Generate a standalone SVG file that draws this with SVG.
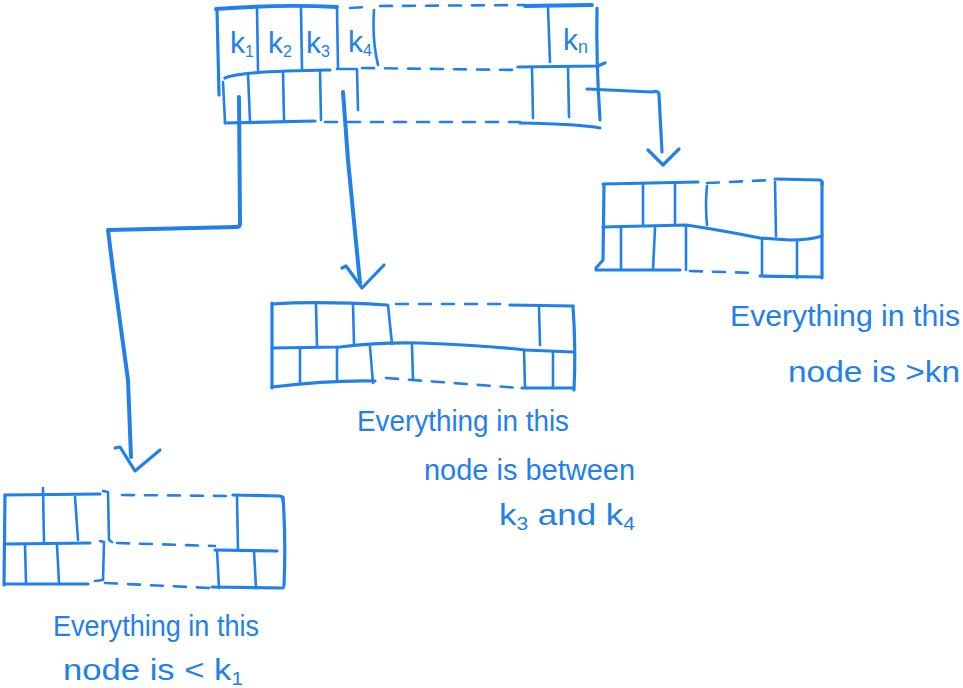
<svg xmlns="http://www.w3.org/2000/svg" width="963" height="688" viewBox="0 0 963 688">
<style>
  .s{fill:none;stroke:#2180ec;stroke-width:3.2;stroke-linecap:round;stroke-linejoin:round}
  .t{stroke-width:2.6}
  .d{stroke-dasharray:12 11;stroke-width:2.6}
  .w{stroke-width:4}
  .k{font-family:"Liberation Sans",Arial,sans-serif;font-size:30px;fill:#2180ec}
  .lbl{font-family:"Liberation Sans",Arial,sans-serif;font-size:30px;fill:#2180ec}
</style>
<rect width="963" height="688" fill="#ffffff"/>

<g id="node-root">
  <path class="s w" d="M216,9 Q280,4 337,7"/>
  <path class="s d" d="M350,8 L367,7"/>
  <path class="s d" d="M380,6 L525,5"/>
  <path class="s w" d="M525,6 L592,5"/>
  <path class="s" d="M217,9 L219,95"/>
  <path class="s t" d="M257,8 L258,70 M301,8 L302,70 M337,8 L338,68 M374,10 Q372,40 378,65 M548,8 L550,62"/>
  <path class="s" d="M597,8 Q596,60 600,120"/>
  <path class="s" d="M225,78 Q240,71 330,70"/>
  <path class="s t" d="M337,69 L355,69"/>
  <path class="s d" d="M362,68 L518,70"/>
  <path class="s" d="M518,67 L598,66 Q602,64 605,63"/>
  <path class="s t" d="M223,82 L225,122 M248,73 L250,122 M283,72 L284,120 M320,70 L321,120 M357,69 L358,110 M532,68 L533,118 M568,67 L569,117"/>
  <path class="s" d="M225,123 L315,121"/>
  <path class="s d" d="M325,122 L520,122"/>
  <path class="s" d="M520,123 Q580,124 600,128"/>
  <text class="k" x="230" y="53">k<tspan font-size="16" dy="4">1</tspan></text>
  <text class="k" x="268" y="53">k<tspan font-size="16" dy="4">2</tspan></text>
  <text class="k" x="306" y="53">k<tspan font-size="16" dy="4">3</tspan></text>
  <text class="k" x="348" y="52">k<tspan font-size="16" dy="4">4</tspan></text>
  <text class="k" x="563" y="50">k<tspan font-size="18" dy="3">n</tspan></text>
</g>

<g id="node-left">
  <path class="s" d="M5,495 L100,494"/>
  <path class="s t" d="M103,491 L108,492 L109,540 L112,542"/>
  <path class="s d" d="M122,495 L233,496"/>
  <path class="s" d="M233,495 L280,496 Q283,497 283,500"/>
  <path class="s" d="M5,495 L4,585"/>
  <path class="s t" d="M43,488 L44,542 M75,497 L78,540 M237,496 L238,550"/>
  <path class="s" d="M7,544 L90,543"/>
  <path class="s t" d="M100,541 L104,542 L103,580 L95,581"/>
  <path class="s d" d="M117,543 L215,546"/>
  <path class="s" d="M215,550 L277,551"/>
  <path class="s" d="M283,497 Q286,540 284,586"/>
  <path class="s t" d="M25,545 L26,583 M57,545 L59,583 M217,550 L219,588 M254,551 L256,588"/>
  <path class="s" d="M5,584 L88,584"/>
  <path class="s d" d="M105,583 L210,588"/>
  <path class="s" d="M212,587 L283,588"/>
</g>

<g id="node-middle">
  <path class="s" d="M272,304 Q320,301 387,305"/>
  <path class="s d" d="M396,304 L510,304"/>
  <path class="s" d="M510,305 L573,306"/>
  <path class="s" d="M272,303 L272,388"/>
  <path class="s" d="M573,306 Q576,350 574,390"/>
  <path class="s t" d="M316,304 L317,347 M353,304 L354,345 M388,305 L392,344 M539,306 L540,345"/>
  <path class="s" d="M272,348 L340,347 Q380,342 420,343 Q480,345 525,350 L573,352"/>
  <path class="s t" d="M300,348 L300,382 M337,347 L337,380 M370,347 L373,383 M412,345 L413,380 M524,350 L525,387 M553,352 L553,388"/>
  <path class="s" d="M272,387 Q330,380 375,381"/>
  <path class="s d" d="M386,378 L520,388"/>
  <path class="s" d="M522,388 L573,388"/>
</g>

<g id="node-right">
  <path class="s" d="M603,184 L698,182"/>
  <path class="s d" d="M707,183 L773,180"/>
  <path class="s" d="M775,179 L820,180 Q823,181 822,185"/>
  <path class="s" d="M604,185 L603,260 L596,268"/>
  <path class="s t" d="M643,184 L643,224 M675,184 L675,225 M707,186 Q705,205 707,225 M775,182 L776,236"/>
  <path class="s" d="M603,227 L686,225 Q720,230 760,238 L790,240 Q810,240 822,236"/>
  <path class="s" d="M822,182 L822,278"/>
  <path class="s t" d="M621,228 L621,270 M655,228 L653,270 M686,226 L686,270 M762,238 L762,275 M797,242 L797,278"/>
  <path class="s" d="M596,270 L680,270"/>
  <path class="s d" d="M690,271 L758,273"/>
  <path class="s" d="M760,276 L820,277"/>
</g>

<g id="connectors">
  <path class="s w" d="M239,97 L240,224 Q240,227 236,227 L108,230 L113,270 L128,380 L131,457"/>
  <path class="s" d="M115,448 L120,447 L135,471 L160,450"/>
  <path class="s w" d="M343,92 L348,160 L360,283"/>
  <path class="s" d="M342,268 L346,266 L362,288 L384,265"/>
  <path class="s" d="M587,89 L652,92 Q659,90 659,95 L662,152"/>
  <path class="s" d="M648,150 L663,165 L679,149"/>
</g>

<g id="label-right">
  <text class="lbl" x="730" y="326" textLength="230" lengthAdjust="spacingAndGlyphs">Everything in this</text>
  <text class="lbl" x="788" y="382" textLength="172" lengthAdjust="spacingAndGlyphs">node is &gt;kn</text>
</g>
<g id="label-middle">
  <text class="lbl" x="357" y="431" textLength="212" lengthAdjust="spacingAndGlyphs">Everything in this</text>
  <text class="lbl" x="424" y="480" textLength="211" lengthAdjust="spacingAndGlyphs">node is between</text>
  <text class="lbl" x="499" y="525" textLength="136" lengthAdjust="spacingAndGlyphs">k<tspan font-size="18" dy="5">3</tspan><tspan dy="-5"> and k</tspan><tspan font-size="18" dy="5">4</tspan></text>
</g>
<g id="label-left">
  <text class="lbl" x="53" y="636" textLength="206" lengthAdjust="spacingAndGlyphs">Everything in this</text>
  <text class="lbl" x="63" y="680" textLength="180" lengthAdjust="spacingAndGlyphs">node is &lt; k<tspan font-size="18" dy="5">1</tspan></text>
</g>
</svg>
